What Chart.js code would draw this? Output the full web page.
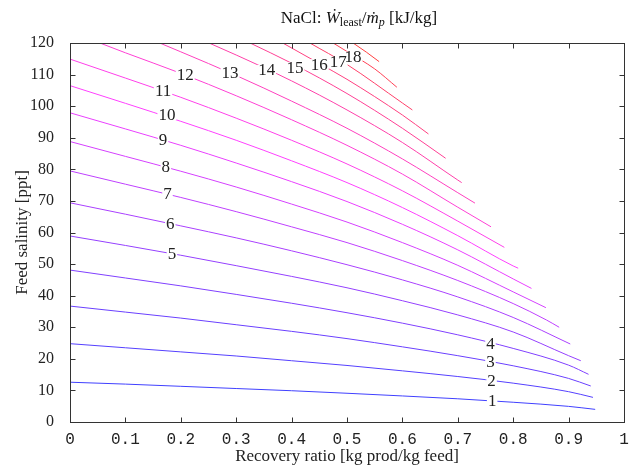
<!DOCTYPE html>
<html><head><meta charset="utf-8">
<script src="https://cdn.jsdelivr.net/npm/chart.js@4"></script>
<style>html,body{margin:0;padding:0;background:#fff}#wrap{width:629px;height:467px;position:relative}</style>
</head><body><div id="wrap"><canvas id="c"></canvas></div>
<script>
// Contour levels [kJ/kg]
const levels = [1,2,3,4,5,6,7,8,9,10,11,12,13,14,15,16,17,18,19];
// Recovery ratio (r) and feed salinity (s, ppt) along each contour
const r01 = [0,0.1,0.2,0.3,0.4,0.5,0.6,0.7,0.8,0.9,0.948];
const s01 = [12.6,12.0,11.3,10.6,9.9,9.1,8.25,7.35,6.25,4.95,4.0];
const r02 = [0,0.1,0.2,0.3,0.4,0.5,0.6,0.7,0.8,0.9,0.944];
const s02 = [24.8,23.5,22.2,20.9,19.4,17.9,16.2,14.4,12.3,9.6,7.8];
const r03 = [0,0.1,0.2,0.3,0.4,0.5,0.6,0.7,0.8,0.9,0.94];
const s03 = [36.7,34.8,32.9,30.8,28.7,26.4,23.8,21.0,17.8,13.8,11.4];
const r04 = [0,0.1,0.2,0.3,0.4,0.5,0.6,0.7,0.8,0.9,0.936];
const s04 = [48.1,45.6,43.1,40.4,37.6,34.6,31.3,27.6,23.3,18.0,15.1];
const r05 = [0,0.1,0.2,0.3,0.4,0.5,0.6,0.7,0.8,0.9,0.922];
const s05 = [58.9,55.9,52.8,49.5,46.1,42.5,38.4,33.9,28.5,21.0,19.4];
const r06 = [0,0.1,0.2,0.3,0.4,0.5,0.6,0.7,0.8,0.903];
const s06 = [69.4,65.8,62.1,58.3,54.2,49.8,45.0,39.6,33.1,24.7];
const r07 = [0,0.1,0.2,0.3,0.4,0.5,0.6,0.7,0.8,0.86,0.883];
const s07 = [79.5,75.3,71.1,66.6,61.8,56.8,51.1,44.8,37.5,32.3,30.0];
const r08 = [0,0.1,0.2,0.3,0.4,0.5,0.6,0.7,0.8,0.859];
const s08 = [88.8,84.1,79.4,74.4,69.0,63.3,56.8,49.6,41.2,36.2];
const r09 = [0,0.1,0.2,0.3,0.4,0.5,0.6,0.7,0.8,0.833];
const s09 = [97.9,92.8,87.6,82.0,76.1,69.8,62.6,54.5,45.3,42.3];
const r10 = [0,0.1,0.2,0.3,0.4,0.5,0.6,0.7,0.8,0.809];
const s10 = [106.5,100.9,95.2,89.2,82.7,75.8,67.9,59.0,49.4,48.7];
const r11 = [0,0.1,0.2,0.3,0.4,0.5,0.6,0.7,0.784];
const s11 = [114.9,108.9,102.8,96.2,89.2,81.7,73.2,63.6,55.3];
const r12 = [0.054,0.1,0.2,0.3,0.4,0.5,0.6,0.7,0.76];
const s12 = [120,116.9,110.4,103.3,95.7,87.6,78.5,68.0,61.8];
const r13 = [0.162,0.2,0.3,0.4,0.5,0.6,0.7,0.731];
const s13 = [120,117.2,109.7,101.6,93.0,83.3,72.6,69.3];
const r14 = [0.251,0.3,0.4,0.5,0.6,0.7,0.707];
const s14 = [120,116.2,108.0,98.8,88.5,76.6,75.8];
const r15 = [0.325,0.4,0.5,0.6,0.678];
const s15 = [120,113.6,104.0,93.0,83.5];
const r16 = [0.384,0.45,0.5,0.6,0.647];
const s16 = [120,113.5,108.5,97.2,91.2];
const r17 = [0.433,0.5,0.6,0.618];
const s17 = [120,113.2,101.0,98.8];
const r18 = [0.475,0.5,0.55,0.59];
const s18 = [120,117.3,111.8,106.0];
const r19 = [0.511,0.535,0.558];
const s19 = [120,117.1,114.1];
const contourR = [r01,r02,r03,r04,r05,r06,r07,r08,r09,r10,r11,r12,r13,r14,r15,r16,r17,r18,r19];
const contourS = [s01,s02,s03,s04,s05,s06,s07,s08,s09,s10,s11,s12,s13,s14,s15,s16,s17,s18,s19];
// In-line contour labels (level, r, s)
const labelLevels = [1,2,3,4,5,6,7,8,9,10,11,12,13,14,15,16,17,18];
const labelR = [0.762,0.761,0.759,0.759,0.184,0.181,0.176,0.173,0.168,0.175,0.168,0.208,0.289,0.355,0.406,0.450,0.484,0.511];
const labelS = [6.7,13.1,19.0,24.9,53.4,62.9,72.2,80.8,89.5,97.2,105.1,109.9,110.6,111.5,112.3,113.3,114.1,115.7];
// Axis ticks
const xTicks = [0,0.1,0.2,0.3,0.4,0.5,0.6,0.7,0.8,0.9,1];
const yTicks = [0,10,20,30,40,50,60,70,80,90,100,110,120];

function colorFor(level){
  const t = (level-1)/18;
  let r=255,g=64,b=255;
  if (t<0.5){ r = Math.round(64 + (255-64)*t/0.5); }
  else { b = Math.round(255 - (255-64)*(t-0.5)/0.5); }
  return `rgb(${r},${g},${b})`;
}

const datasets = levels.map((lv,i)=>({
  label: String(lv),
  data: contourR[i].map((r,j)=>({x:r, y:contourS[i][j]})),
  showLine: true,
  borderColor: colorFor(lv),
  borderWidth: 1,
  pointRadius: 0,
  fill: false,
  cubicInterpolationMode: 'monotone'
}));

const AXC = '#333';
const SERIF = '"Liberation Serif", "DejaVu Serif", serif';

const decor = {
  id: 'decor',
  afterDatasetsDraw(chart){
    const {ctx, scales:{x,y}} = chart;
    ctx.save();
    ctx.font = '17px ' + SERIF;
    ctx.textAlign = 'center';
    ctx.textBaseline = 'middle';
    labelLevels.forEach((lv,i)=>{
      const px = x.getPixelForValue(labelR[i]);
      const py = y.getPixelForValue(labelS[i]);
      const txt = String(lv);
      const w = ctx.measureText(txt).width;
      ctx.fillStyle = '#fff';
      ctx.fillRect(px - w/2 - 1, py - 5, w + 2, 10);
    });
    ctx.fillStyle = '#222';
    labelLevels.forEach((lv,i)=>{
      const px = x.getPixelForValue(labelR[i]);
      const py = y.getPixelForValue(labelS[i]);
      ctx.fillText(String(lv), px, py+1);
    });
    ctx.restore();
  },
  afterDraw(chart){
    const {ctx, chartArea:ca, scales:{x,y}} = chart;
    ctx.save();
    ctx.strokeStyle = AXC;
    ctx.lineWidth = 1;
    const L = Math.round(ca.left)+0.5, R = Math.round(ca.right)+0.5;
    const T = Math.round(ca.top)+0.5, B = Math.round(ca.bottom)+0.5;
    ctx.strokeRect(L, T, R-L, B-T);
    const tl = 5;
    ctx.beginPath();
    xTicks.forEach(v=>{
      const px = Math.round(x.getPixelForValue(v))+0.5;
      ctx.moveTo(px, B); ctx.lineTo(px, B-tl);
      ctx.moveTo(px, T); ctx.lineTo(px, T+tl);
    });
    yTicks.forEach(v=>{
      const py = Math.round(y.getPixelForValue(v))+0.5;
      ctx.moveTo(L, py); ctx.lineTo(L+tl, py);
      ctx.moveTo(R, py); ctx.lineTo(R-tl, py);
    });
    ctx.stroke();
    // Title
    const parts = [
      {t:'NaCl: ', f:'17px '+SERIF, dy:0},
      {t:'\u1E86', f:'italic 17px '+SERIF, dy:0},
      {t:'least', f:'12px '+SERIF, dy:3},
      {t:'/', f:'17px '+SERIF, dy:0},
      {t:'\u1E41', f:'italic 17px '+SERIF, dy:0},
      {t:'p', f:'italic 12px '+SERIF, dy:3},
      {t:' [kJ/kg]', f:'17px '+SERIF, dy:0}
    ];
    let total = 0;
    parts.forEach(p=>{ ctx.font = p.f; p.w = ctx.measureText(p.t).width; total += p.w; });
    let cx = 359 - total/2;
    ctx.fillStyle = '#111';
    ctx.textBaseline = 'alphabetic';
    ctx.textAlign = 'left';
    parts.forEach(p=>{ ctx.font = p.f; ctx.fillText(p.t, cx, 23 + p.dy); cx += p.w; });
    ctx.restore();
  }
};

new Chart(document.getElementById('c'), {
  type: 'scatter',
  data: { datasets },
  options: {
    responsive: true,
    maintainAspectRatio: false,
    animation: false,
    layout: { padding: { top: 43, right: 5, left: 0, bottom: 0 } },
    plugins: { legend: { display: false }, title: { display: false }, tooltip: { enabled: false } },
    scales: {
      x: {
        type: 'linear', min: 0, max: 1,
        afterBuildTicks: s => { s.ticks = xTicks.map(v=>({value:v})); },
        afterFit: s => { s.height = 45; },
        grid: { display: false }, border: { display: false },
        ticks: { color: '#222', padding: 0, maxRotation: 0, autoSkip: false,
          font: { family: '"Liberation Mono", "DejaVu Sans Mono", monospace', size: 16 },
          callback: v => (v===0 ? '0' : (v===1 ? '1' : v.toFixed(1))) },
        title: { display: true, text: 'Recovery ratio [kg prod/kg feed]', color: '#222',
          font: { family: SERIF, size: 17 }, padding: { top: 0, bottom: 0 } }
      },
      y: {
        type: 'linear', min: 0, max: 120,
        afterBuildTicks: s => { s.ticks = yTicks.map(v=>({value:v})); },
        afterFit: s => { s.width = 70; },
        grid: { display: false }, border: { display: false },
        ticks: { color: '#222', padding: 8, autoSkip: false,
          font: { family: SERIF, size: 16 } },
        title: { display: true, text: 'Feed salinity [ppt]', color: '#222',
          font: { family: SERIF, size: 17 }, padding: { top: 12, bottom: 4 } }
      }
    }
  },
  plugins: [decor]
});
</script></body></html>
